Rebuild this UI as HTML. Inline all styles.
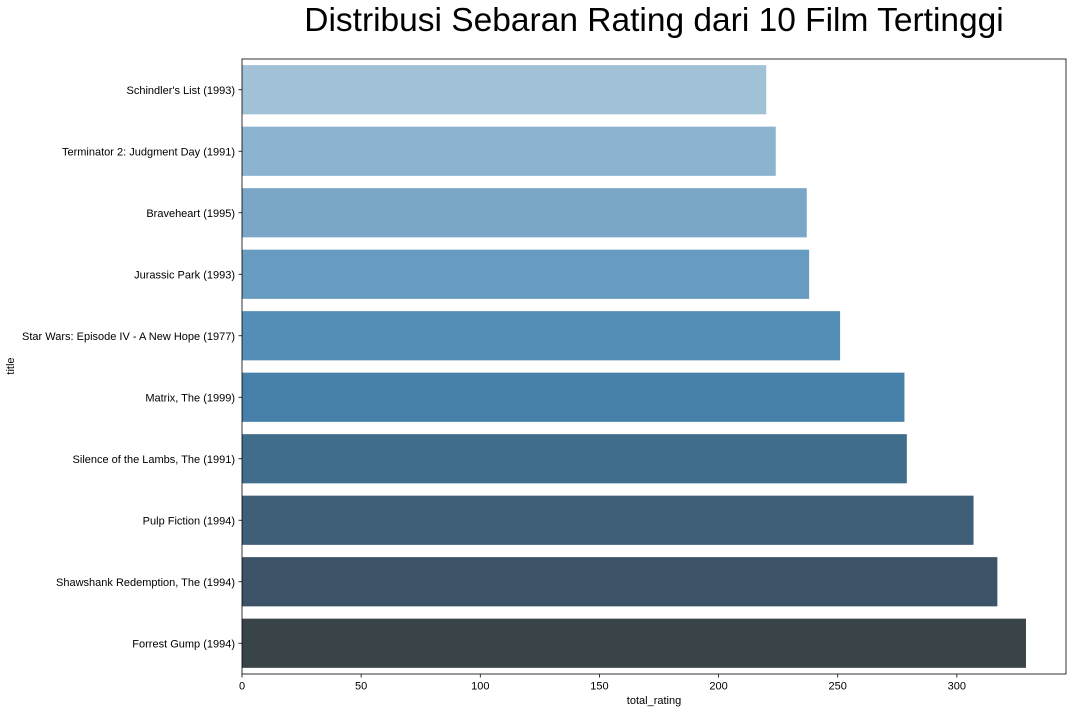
<!DOCTYPE html>
<html><head><meta charset="utf-8"><style>
body{margin:0;background:#fff;font-family:"Liberation Sans",sans-serif;}
svg text{font-family:"Liberation Sans",sans-serif;}
</style></head><body>
<svg width="1072" height="712" xmlns="http://www.w3.org/2000/svg">
<text x="654" y="31" font-size="33.5" text-anchor="middle" fill="#000">Distribusi Sebaran Rating dari 10 Film Tertinggi</text>
<g id="bars"></g>
<rect x="242" y="59" width="824" height="615" fill="none" stroke="#000" stroke-width="0.8"/>
<g id="xt"></g><g id="yt"></g>
<text x="654" y="704" font-size="11" text-anchor="middle">total_rating</text>
<text x="14" y="366" font-size="11" text-anchor="middle" transform="rotate(-90 14 366)">title</text>
</svg>
<script>
const categories=["Schindler's List (1993)","Terminator 2: Judgment Day (1991)","Braveheart (1995)","Jurassic Park (1993)","Star Wars: Episode IV - A New Hope (1977)","Matrix, The (1999)","Silence of the Lambs, The (1991)","Pulp Fiction (1994)","Shawshank Redemption, The (1994)","Forrest Gump (1994)"];
const values=[220,224,237,238,251,278,279,307,317,329];
const xTicks=[0,50,100,150,200,250,300];
const colors=["#a0c1d6","#8cb3cf","#7aa7c7","#679bc0","#548db6","#467fa7","#416d8d","#3f5f79","#3c5266","#394449"];
const X0=242,X1=1066,Y0=59,Y1=674,XMAX=345.8;
const xs=v=>X0+v/XMAX*(X1-X0);
const band=(Y1-Y0)/categories.length;
const ys=i=>Y0+i*band;
const NS="http://www.w3.org/2000/svg";
const bars=document.getElementById('bars'),xt=document.getElementById('xt'),yt=document.getElementById('yt');
function mk(t,a,p){const e=document.createElementNS(NS,t);for(const k in a)e.setAttribute(k,a[k]);p.appendChild(e);return e;}
values.forEach((v,i)=>{
 const r=mk('rect',{x:X0,y:ys(i)+band*0.1,width:xs(v)-X0,height:band*0.8,fill:colors[i]},bars);
 
 
 const cy=ys(i)+band/2;
 mk('line',{x1:X0-3.5,x2:X0,y1:cy,y2:cy,stroke:'#000','stroke-width':0.8},yt);
 const t=mk('text',{x:X0-7,y:cy+4,'font-size':11,'text-anchor':'end'},yt);
 t.textContent=categories[i];
 
 
});
xTicks.forEach(v=>{
 const x=xs(v);
 mk('line',{x1:x,x2:x,y1:Y1,y2:Y1+3.5,stroke:'#000','stroke-width':0.8},xt);
 const t=mk('text',{x:x,y:Y1+15.5,'font-size':11,'text-anchor':'middle'},xt);
 t.textContent=v;
 
 
});
</script>
</body></html>
